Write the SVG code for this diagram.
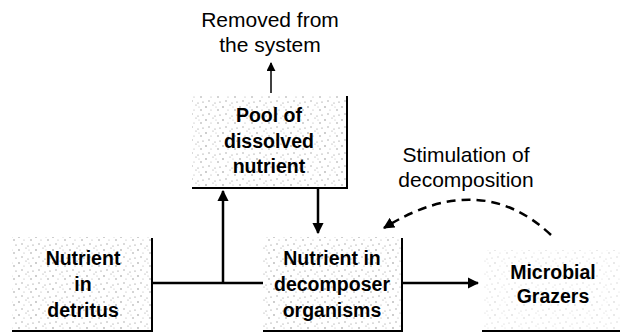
<svg xmlns="http://www.w3.org/2000/svg" width="620" height="336" viewBox="0 0 620 336">
<defs>
<pattern id="stip" width="17" height="13" patternUnits="userSpaceOnUse">
<circle cx="2" cy="3" r="0.7" fill="#777"/>
<circle cx="9" cy="1" r="0.6" fill="#999"/>
<circle cx="14" cy="6" r="0.7" fill="#888"/>
<circle cx="16" cy="11" r="0.6" fill="#777"/>
<circle cx="5" cy="10" r="0.7" fill="#999"/>
<circle cx="11" cy="12" r="0.6" fill="#888"/>
<circle cx="7" cy="6" r="0.6" fill="#aaa"/>
<circle cx="12" cy="3" r="0.5" fill="#aaa"/>
</pattern>
<marker id="ah" viewBox="0 0 10 10" refX="9" refY="5" markerWidth="4.5" markerHeight="4.5" orient="auto" markerUnits="strokeWidth">
<path d="M0,0 L10,5 L0,10 Z" fill="#000"/>
</marker>
<marker id="ahs" viewBox="0 0 10 10" refX="9" refY="5" markerWidth="6" markerHeight="6" orient="auto" markerUnits="strokeWidth">
<path d="M0,0 L10,5 L0,10 Z" fill="#000"/>
</marker>
</defs>
<style>
.box{fill:url(#stip);stroke:none}
.edge{fill:none;stroke:#000;stroke-width:2}
.lbl{font-family:"Liberation Sans",Arial,sans-serif;font-weight:bold;font-size:19.5px;text-anchor:middle;fill:#000}
.txt{font-family:"Liberation Sans",Arial,sans-serif;font-size:21px;text-anchor:middle;fill:#000}
.con{fill:none;stroke:#000;stroke-width:2.5}
</style>
<g id="removed">
<text class="txt" x="270" y="27">Removed from</text>
<text class="txt" x="270" y="52">the system</text>
</g>
<g id="stimulation">
<text class="txt" x="466" y="162">Stimulation of</text>
<text class="txt" x="466" y="187">decomposition</text>
</g>
<g id="pool">
<rect class="box" x="192" y="95" width="155" height="93"/>
<path class="edge" d="M192,188 H347 V96"/>
<text class="lbl" x="269" y="122">Pool of</text>
<text class="lbl" x="269" y="148">dissolved</text>
<text class="lbl" x="269" y="173">nutrient</text>
</g>
<g id="detritus">
<rect class="box" x="12" y="237" width="140" height="93"/>
<path class="edge" d="M12,331 H152 V238"/>
<text class="lbl" x="83" y="265">Nutrient</text>
<text class="lbl" x="83" y="291">in</text>
<text class="lbl" x="83" y="317">detritus</text>
</g>
<g id="decomposer">
<rect class="box" x="263" y="237" width="139" height="93"/>
<path class="edge" d="M263,331 H402 V238"/>
<text class="lbl" x="332" y="265">Nutrient in</text>
<text class="lbl" x="332" y="291">decomposer</text>
<text class="lbl" x="332" y="317">organisms</text>
</g>
<g id="grazers">
<rect class="box" x="484" y="250" width="136" height="80" opacity="0.45"/>
<path class="edge" d="M482,331 H620"/>
<text class="lbl" x="553" y="279">Microbial</text>
<text class="lbl" x="553" y="303">Grazers</text>
</g>
<g id="connectors">
<path class="con" d="M152,283 H263"/>
<path class="con" d="M223,283 V191" marker-end="url(#ah)"/>
<path class="con" d="M318,188 V233" marker-end="url(#ah)"/>
<path class="con" d="M402,283 H478" marker-end="url(#ah)"/>
<path fill="none" stroke="#000" stroke-width="1.5" d="M271,93 V63" marker-end="url(#ahs)"/>
<path fill="none" stroke="#000" stroke-width="2.5" stroke-dasharray="9,6" d="M551,235 Q480,168 384,228" marker-end="url(#ah)"/>
</g>
</svg>
